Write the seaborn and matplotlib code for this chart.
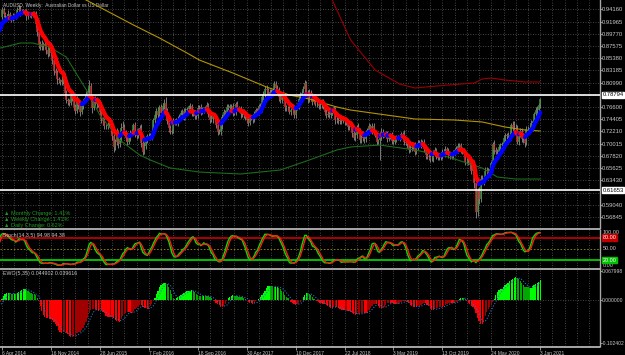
import numpy as np
import pandas as pd
import matplotlib
matplotlib.use("Agg")
import matplotlib.pyplot as plt
import matplotlib.transforms as mtransforms
from matplotlib.collections import LineCollection
from matplotlib.lines import Line2D
import seaborn as sns

# Weekly AUDUSD closes in pips, weeks starting 30 Jun 2013 up to 3 Jan 2021.
# The first 40 weeks (before 6 Apr 2014) only warm up the indicators.
closes = [
    9045, 9190, 9230, 9270, 8930, 9170, 9170, 9000, 8900, 9160, 9280, 9340, 9310, 9450,
    9480, 9620, 9510, 9440, 9450, 9340, 9190, 9110, 9090, 8940, 8900, 8890, 8960,
    8980, 8790, 8720, 8740, 8960, 9030, 8980, 8930, 9010, 9010, 9080, 9130, 9280,
    # 2014
    9410, 9330, 9290, 9280, 9340, 9270, 9230, 9300, 9300, 9290, 9400, 9430, 9360,
    9380, 9390, 9390, 9290, 9300, 9320, 9310, 9340, 9330, 9150, 9000, 8800, 8740,
    8790, 8750, 8800, 8690, 8620, 8760, 8630, 8500, 8310, 8280, 8160, 8140, 8110,
    # 2015
    8150, 8230, 7920, 7780, 7760, 7740, 7860, 7810, 7660, 7590, 7770, 7690, 7570,
    7670, 7760, 7820, 7890, 7950, 8030, 7830, 7650, 7790, 7720, 7790, 7710, 7570,
    7440, 7400, 7320, 7310, 7350, 7370, 7260, 7140, 6940, 7030, 7200, 6990, 7080,
    7280, 7300, 7210, 7100, 7040, 7100, 7200, 7210, 7330, 7200, 7140, 7240, 7290,
    # 2016
    7020, 6860, 6960, 7080, 7140, 7120, 7130, 7140, 7420, 7510, 7590, 7510, 7660,
    7560, 7680, 7740, 7600, 7410, 7290, 7230, 7220, 7400, 7380, 7410, 7440, 7470,
    7560, 7590, 7490, 7600, 7620, 7670, 7670, 7550, 7570, 7500, 7500, 7640, 7660,
    7570, 7600, 7620, 7610, 7690, 7540, 7430, 7450, 7500, 7460, 7340, 7210, 7210,
    # 2017
    7330, 7480, 7570, 7560, 7660, 7650, 7670, 7680, 7570, 7570, 7710, 7620, 7630,
    7530, 7570, 7510, 7480, 7420, 7380, 7470, 7460, 7440, 7530, 7600, 7570, 7680,
    7610, 7840, 7900, 7990, 7960, 7880, 7930, 7920, 7960, 8070, 8010, 7970, 7840,
    7790, 7880, 7840, 7660, 7650, 7650, 7570, 7610, 7610, 7520, 7640, 7680, 7800, 7880,
    # 2018
    7920, 7990, 8100, 7920, 7800, 7920, 7850, 7750, 7850, 7720, 7720, 7680,
    7690, 7750, 7680, 7570, 7520, 7540, 7520, 7560, 7580, 7620, 7420, 7430, 7400,
    7430, 7410, 7430, 7400, 7390, 7300, 7300, 7330, 7190, 7110, 7160, 7300, 7230, 7070,
    7120, 7110, 7080, 7200, 7230, 7320, 7230, 7320, 7190, 7180, 7040, 7060, 7120,
    # 2019
    7220, 7160, 7180, 7170, 7090, 7150, 7160, 7050, 7040, 7090, 7100, 7100, 7120,
    7170, 7180, 7030, 7020, 6990, 6890, 6920, 6940, 6980, 6860, 6930, 7020, 6980,
    7030, 7030, 6910, 6790, 6770, 6770, 6730, 6730, 6840, 6880, 6760, 6750, 6760,
    6780, 6860, 6820, 6910, 6860, 6800, 6790, 6770, 6830, 6880, 6900, 6960, 6970,
    # 2020
    6870, 6880, 6840, 6680, 6680, 6710, 6620, 6510, 6620, 6290, 5770, 6150, 6010,
    6370, 6330, 6360, 6510, 6520, 6460, 6540, 6650, 6990, 6880, 6860, 6860, 6950,
    6970, 7000, 7100, 7140, 7160, 7140, 7160, 7330, 7280, 7290, 7290, 7040, 7160,
    7230, 7080, 7100, 7020, 7270, 7260, 7290, 7370, 7400, 7530, 7610, 7600, 7690,
    # 2021
    7800,
]

# wick lengths above / below the candle body, in units of 0.001
wick_up = [
    5, 4, 6, 3, 7, 3, 5, 4, 6, 4, 5, 3, 6, 4, 5, 8, 4, 3, 5, 4, 3, 6, 4, 5, 3, 4, 5,
    6, 4, 3, 5, 4, 3, 5, 4, 3, 4, 5, 3, 4,
    5, 4, 3, 4, 6, 3, 4, 5, 3, 4, 6, 7, 4, 5, 4, 3, 4, 3, 4, 3, 5, 4, 6, 4, 3, 5,
    7, 4, 6, 3, 4, 8, 5, 4, 3, 6, 5, 4, 3,
    7, 6, 5, 4, 5, 4, 6, 7, 5, 6, 8, 5, 4, 6, 5, 4, 6, 5, 11, 6, 4, 5, 6, 5, 4, 6,
    5, 4, 6, 3, 4, 5, 6, 4, 3, 5, 8, 4, 5, 9, 10, 5, 4, 5, 6, 4, 5, 4, 6, 7, 5, 4,
    6, 5, 7, 4, 3, 5, 6, 4, 5, 6, 5, 7, 4, 6, 5, 6, 10, 5, 4, 5, 3, 6, 4, 5, 6, 7,
    5, 4, 6, 5, 4, 3, 6, 4, 5, 4, 5, 6, 4, 5, 6, 4, 5, 6, 4, 5, 6, 3, 5, 4, 3, 6,
    4, 5, 6, 4, 5, 6, 5, 4, 6, 5, 4, 6, 5, 4, 5, 6, 4, 3, 5, 4, 3, 5, 6, 4, 5, 4,
    5, 6, 4, 5, 6, 4, 5, 6, 4, 5, 6, 4, 5, 5, 4, 6, 5, 4, 3, 6, 4, 5, 4, 5, 6, 4, 5,
    4, 5, 4, 2, 5, 6, 4, 7, 5, 4, 6, 5, 4, 5, 6, 4, 5, 4, 5, 6, 4, 5, 4, 6, 5,
    4, 5, 4, 5, 3, 6, 4, 5, 4, 5, 6, 4, 7, 5, 4, 5, 6, 4, 5, 6, 4, 5, 6, 5, 4, 3, 4,
    6, 5, 4, 5, 6, 5, 4, 6, 5, 4, 6, 5, 4, 5, 4, 6, 5, 4, 5, 6, 5, 4, 5, 6, 5, 4,
    5, 4, 6, 5, 4, 5, 4, 6, 5, 6, 4, 5, 4, 6, 5, 4, 5, 4, 6, 5, 4, 5, 4, 6, 5, 4,
    5, 6, 4, 5, 6, 5, 4, 6, 7, 7, 1, 5, 8, 6, 7, 5, 8, 6, 5, 6, 4, 4, 7, 6, 5, 4,
    5, 4, 6, 5, 4, 5, 6, 4, 8, 11, 6, 4, 5, 6, 5, 6, 4, 5, 4, 6, 5, 3, 4, 5, 6, 5,
    3,
]
wick_dn = [
    6, 3, 4, 5, 4, 5, 3, 6, 4, 3, 4, 5, 3, 4, 3, 4, 6, 5, 4, 3, 5, 4, 3, 6, 4, 5, 3,
    4, 6, 5, 4, 5, 4, 3, 5, 4, 3, 5, 4, 3,
    4, 5, 3, 4, 3, 5, 4, 3, 4, 5, 3, 4, 6, 3, 4, 5, 6, 4, 3, 5, 3, 4, 5, 7, 8, 6,
    5, 6, 4, 7, 6, 4, 5, 6, 7, 5, 8, 4, 5,
    6, 8, 7, 5, 6, 7, 4, 5, 6, 5, 4, 6, 7, 4, 5, 3, 4, 4, 5, 6, 9, 5, 6, 7, 5, 4,
    6, 7, 6, 5, 4, 5, 6, 8, 9, 6, 5, 7, 4, 5, 4, 6, 5, 6, 4, 5, 3, 5, 7, 6, 4, 5,
    7, 6, 4, 5, 6, 4, 5, 6, 3, 4, 5, 6, 5, 6, 4, 5, 7, 6, 7, 5, 4, 3, 5, 4, 9, 5,
    4, 5, 6, 4, 5, 6, 4, 5, 6, 5, 6, 4, 5, 6, 4, 5, 3, 4, 6, 5, 4, 7, 5, 6, 5, 4,
    5, 6, 4, 5, 6, 4, 5, 6, 7, 5, 6, 4, 5, 6, 5, 4, 6, 5, 7, 5, 4, 6, 5, 4, 6, 5,
    6, 4, 5, 6, 7, 5, 4, 6, 5, 4, 5, 6, 7, 6, 5, 4, 7, 6, 5, 4, 6, 5, 6, 5, 4, 5, 4,
    5, 4, 6, 5, 7, 5, 6, 5, 4, 5, 6, 5, 5, 4, 6, 5, 6, 4, 6, 5, 4, 5, 6, 4, 5,
    4, 5, 4, 6, 5, 6, 5, 4, 7, 5, 6, 5, 4, 6, 5, 6, 7, 4, 5, 6, 4, 5, 4, 5, 6, 5, 35,
    6, 5, 4, 5, 5, 4, 6, 5, 4, 5, 6, 4, 5, 4, 5, 6, 5, 6, 5, 4, 5, 5, 6, 4, 5, 4,
    5, 4, 6, 7, 5, 6, 5, 4, 6, 5, 4, 5, 4, 5, 6, 4, 5, 4, 5, 6, 5, 5, 4, 5, 6, 4,
    4, 6, 5, 6, 5, 6, 7, 5, 6, 8, 11, 7, 9, 5, 6, 7, 5, 6, 7, 5, 6, 4, 6, 5, 6, 4,
    5, 6, 4, 5, 5, 4, 6, 5, 7, 5, 6, 4, 6, 4, 5, 6, 7, 5, 6, 4, 5, 6, 5, 4, 6, 5,
    4,
]
first_week = -40  # week 0 = 6 Apr 2014

# long moving average (yellow) and its envelope (green below, dark red above)
ma_weeks = [0, 30, 55, 86, 103, 121, 129, 151, 173, 188, 201, 219, 228, 270, 296, 314, 329, 342, 352]
ma_price = [1.010, 0.988, 0.9583, 0.9134, 0.8900, 0.8631, 0.8505, 0.8271, 0.8020, 0.7876,
            0.7804, 0.7660, 0.7606, 0.7445, 0.7427, 0.7391, 0.7301, 0.7247, 0.7229]
lo_weeks = [-1, 12, 20, 31, 42, 56, 64, 77, 90, 97, 110, 129, 156, 182, 201, 219, 228, 247,
            270, 292, 314, 324, 336, 352]
lo_price = [0.8721, 0.8810, 0.8810, 0.8738, 0.8559, 0.7930, 0.7516, 0.7067, 0.6798, 0.6708,
            0.6564, 0.6492, 0.6456, 0.6528, 0.6708, 0.6888, 0.6942, 0.6977, 0.6888, 0.6762,
            0.6564, 0.6402, 0.6366, 0.6366]
hi_weeks = [195, 216, 228, 244, 260, 270, 292, 309, 314, 320, 329, 342, 352]
hi_price = [1.030, 0.9583, 0.8864, 0.8325, 0.8074, 0.8002, 0.8056, 0.8092, 0.8163, 0.8181,
            0.8145, 0.8110, 0.8110]

# right scale labels (the two hidden under the level boxes are left out)
price_ticks = [0.94160, 0.91965, 0.89770, 0.87575, 0.85380, 0.83185, 0.80990,
               0.76600, 0.74405, 0.72210, 0.70015, 0.67820, 0.65625, 0.63430,
               0.59040, 0.56845]
marked_levels = [0.78794, 0.61653]
date_labels = ['6 Apr 2014', '16 Nov 2014', '28 Jun 2015', '7 Feb 2016', '18 Sep 2016',
               '30 Apr 2017', '10 Dec 2017', '22 Jul 2018', '3 Mar 2019', '13 Oct 2019',
               '24 May 2020', '3 Jan 2021']

# ---- build the price table
n = min(len(closes), len(wick_up), len(wick_dn))
df = pd.DataFrame({'week': np.arange(first_week, first_week + n),
                   'close': np.array(closes[:n]) / 10000})
df['open'] = df['close'].shift(1).fillna(df['close'])
df['high'] = df[['open', 'close']].max(axis=1) + np.array(wick_up[:n]) / 1000
df['low'] = df[['open', 'close']].min(axis=1) - np.array(wick_dn[:n]) / 1000

# indicators
df['fast'] = df['close'].ewm(span=8, adjust=False).mean()
ll = df['low'].rolling(14).min()
hh = df['high'].rolling(14).max()
df['stoch'] = (df['close'] - ll).rolling(5).sum() / (hh - ll).rolling(5).sum() * 100
df['stoch_sig'] = df['stoch'].rolling(3).mean()
med = (df['high'] + df['low']) / 2
df['ewo'] = med.rolling(5).mean() - med.rolling(35).mean()
df['ewo_sig'] = df['ewo'].rolling(5).mean()
vis = df[df['week'] >= 0]

# ---- style
sns.set_theme(style="dark")
plt.rcParams['font.family'] = ['Liberation Sans', 'DejaVu Sans']
grid_kw = dict(color='#5c5c5c', linestyle=(0, (1, 2)), linewidth=0.6)
txt = '#c8c8c8'
axis_gray = '#a8a8a8'
lab_fs = 4.2

W, H = 625, 355
fig = plt.figure(figsize=(W / 100, H / 100), dpi=100, facecolor='black')

def px_axes(top, bottom):
    return fig.add_axes([0, 1 - bottom / H, 600 / W, (bottom - top) / H], facecolor='black')

ax = px_axes(0, 228)
ax_st = px_axes(230, 268)
ax_ew = px_axes(269, 346)

xlim = (-1.31, 391.1)
grid_weeks = np.arange(0, 392, 8)
for a in (ax, ax_st, ax_ew):
    a.set_xlim(*xlim)
    for s in a.spines.values():
        s.set_visible(False)
    a.spines['right'].set_visible(True)
    a.spines['right'].set_color(axis_gray)
    a.spines['right'].set_linewidth(1.0)
    a.yaxis.tick_right()
    a.tick_params(axis='y', colors=axis_gray, labelcolor=txt, labelsize=lab_fs, length=1.2,
                  pad=0.4, width=0.6)
    a.grid(False)
    for gw in grid_weeks:
        a.axvline(gw, zorder=0, **grid_kw)

# ---- main price panel
ax.set_ylim(0.54859, 0.95831)
ax.set_yticks(price_ticks)
ax.set_yticklabels([f'{p:.5f}' for p in price_ticks])
for p in price_ticks + [0.78795, 0.61235]:
    ax.axhline(p, zorder=0, **grid_kw)
ax.set_xticks([])

ax.vlines(vis['week'], vis['low'], vis['high'], color='#8e8e8e', lw=0.6, zorder=2)
up = vis['close'] >= vis['open']
ax.vlines(vis['week'][up], vis['open'][up], vis['close'][up], color='#3f8f3f', lw=1.1, zorder=3)
ax.vlines(vis['week'][~up], vis['close'][~up], vis['open'][~up], color='#c83232', lw=1.1, zorder=3)

sns.lineplot(x=ma_weeks, y=ma_price, ax=ax, color='#b39400', lw=0.8, zorder=4)
sns.lineplot(x=lo_weeks, y=lo_price, ax=ax, color='#1c6b1c', lw=0.8, zorder=4)
sns.lineplot(x=hi_weeks, y=hi_price, ax=ax, color='#9a0000', lw=0.8, zorder=4)

pts = np.column_stack([df['week'], df['fast']])
segs = np.stack([pts[:-1], pts[1:]], axis=1)
seg_cols = np.where(np.diff(df['fast']) > 0, '#0000ff', '#ff0000')
ax.add_collection(LineCollection(segs, colors=seg_cols, linewidths=3.0, capstyle='round', zorder=5))

blend = mtransforms.blended_transform_factory(ax.transAxes, ax.transData)
for lvl in marked_levels:
    ax.axhline(lvl, color='white', lw=1.2, zorder=6)
    ax.text(1.004, lvl, f'{lvl:.5f}', transform=blend, fontsize=lab_fs, color='black', va='center',
            ha='left', clip_on=False, zorder=10,
            bbox=dict(boxstyle='square,pad=0.12', fc='white', ec='white'))

ax.text(0.005, 0.985, 'AUDUSD, Weekly:  Australian Dollar vs US Dollar', transform=ax.transAxes,
        fontsize=3.4, color=txt, va='top', ha='left')
changes = ['▲ Monthly Change: 1.41%', '▲ Weekly Change: 1.41%', '▲ Daily Change: 0.62%']
for i, c in enumerate(changes):
    ax.text(0.006, 1 - (213 + 6 * i) / 228, c, transform=ax.transAxes, fontsize=4.0,
            color='#1f9a1f', va='center', ha='left')

# ---- stochastic panel
ax_st.set_ylim(-1.3, 100)
ax_st.set_yticks([])
ax_st.set_xticks([])
ax_st.axhline(80, color='#b00000', lw=1.4)
ax_st.axhline(20, color='#00c000', lw=1.4)
ax_st.axhline(50, color='#a08c00', lw=0.6, ls=(0, (2, 2)))
sns.lineplot(x=df['week'], y=df['stoch'], ax=ax_st, color='#00e000', lw=1.0)
sns.lineplot(x=df['week'], y=df['stoch_sig'], ax=ax_st, color='#ff1a1a', lw=1.0)
ax_st.set_xlabel('')
ax_st.set_ylabel('')
bst = mtransforms.blended_transform_factory(ax_st.transAxes, ax_st.transData)
st_fs = 3.9
ax_st.text(1.004, 100, '100.00', transform=bst, fontsize=st_fs, color=txt, va='top', clip_on=False)
ax_st.text(1.004, 50, '50.00', transform=bst, fontsize=st_fs, color=txt, va='center', clip_on=False)
ax_st.text(1.004, -1, '0.00', transform=bst, fontsize=st_fs, color=txt, va='bottom', clip_on=False)
ax_st.text(1.004, 80, '80.00', transform=bst, fontsize=st_fs, color='white', va='center', clip_on=False,
           bbox=dict(boxstyle='square,pad=0.12', fc='#c00000', ec='#c00000'))
ax_st.text(1.004, 20, '20.00', transform=bst, fontsize=st_fs, color='white', va='center', clip_on=False,
           bbox=dict(boxstyle='square,pad=0.12', fc='#00c000', ec='#00c000'))
ax_st.text(0.005, 0.93, 'Stoch(14,3,5) 94.98 94.38', transform=ax_st.transAxes, fontsize=3.8,
           color=txt, va='top', ha='left')

# ---- EWO panel
ax_ew.set_ylim(-0.109, 0.0724)
ewo_ticks = [-0.102402, 0.0, 0.067998]
ax_ew.set_yticks(ewo_ticks)
ax_ew.set_yticklabels([f'{v:.6f}' for v in ewo_ticks])
ax_ew.tick_params(axis='y', labelsize=3.6)
ax_ew.axhline(0, zorder=0, **grid_kw)
ev = df['ewo']
rising = ev.diff() > 0
bar_cols = np.where(ev >= 0, np.where(rising, '#00ff00', '#00a800'),
                    np.where(rising, '#a00000', '#ff0000'))
ax_ew.bar(df['week'], ev, width=0.8, color=bar_cols, linewidth=0, zorder=2)
ax_ew.plot(df['week'], df['ewo_sig'], color='#2a6fc0', lw=0.8, ls=(0, (1, 1.5)), zorder=3)
ax_ew.text(0.005, 0.975, 'EWO(5,35) 0.044902 0.039616', transform=ax_ew.transAxes, fontsize=3.8,
           color=txt, va='top', ha='left')

date_weeks = np.arange(0, 32 * len(date_labels), 32)
ax_ew.set_xticks(date_weeks)
ax_ew.set_xticklabels(date_labels, ha='left')
ax_ew.tick_params(axis='x', colors=axis_gray, labelcolor=txt, labelsize=3.5, length=3,
                  pad=0.5, width=0.6, bottom=True)

# panel separators and bottom line
for yy in (229, 268.5, 346.5):
    fig.add_artist(Line2D([0, 600 / W], [1 - yy / H, 1 - yy / H], transform=fig.transFigure,
                          color='#b4b4b4', lw=1.3))

fig.savefig('out.png', dpi=100, facecolor='black')
